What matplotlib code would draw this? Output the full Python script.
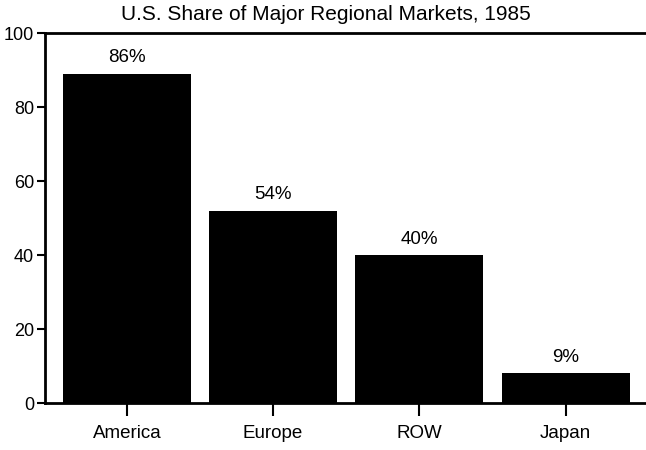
import matplotlib
matplotlib.use("Agg")
import matplotlib.pyplot as plt

categories = ["America", "Europe", "ROW", "Japan"]
values = [89, 52, 40, 8]
labels = ["86%", "54%", "40%", "9%"]
yticks = [0, 20, 40, 60, 80, 100]

plt.rcParams['font.family'] = ['Liberation Sans', 'DejaVu Sans']

fig = plt.figure(figsize=(6.46, 4.5), dpi=100)
ax = fig.add_axes([45/646, 1-403/450, 1-45/646, (403-33)/450])

x = list(range(len(categories)))
ax.bar(x, values, width=0.875, color='black')
for xi, v, lab in zip(x, values, labels):
    ax.text(xi, v + 2.0, lab, ha='center', va='bottom', fontsize=13.5)

ax.set_xlim(-0.56, 3.55)
ax.set_ylim(0, 100)
ax.set_yticks(yticks)
ax.set_xticks(x)
ax.set_xticklabels(categories, fontsize=13.5)
ax.tick_params(axis='y', labelsize=13, length=6, width=1.5, direction='out', pad=2)
ax.tick_params(axis='x', length=9, width=1.5, direction='out', pad=7)

for s in ['left', 'bottom', 'top']:
    ax.spines[s].set_linewidth(2)
ax.spines['right'].set_visible(False)

fig.text(326/646, 1-14/450, "U.S. Share of Major Regional Markets, 1985",
         ha='center', va='center', fontsize=15)

fig.savefig("out.png", dpi=100)
